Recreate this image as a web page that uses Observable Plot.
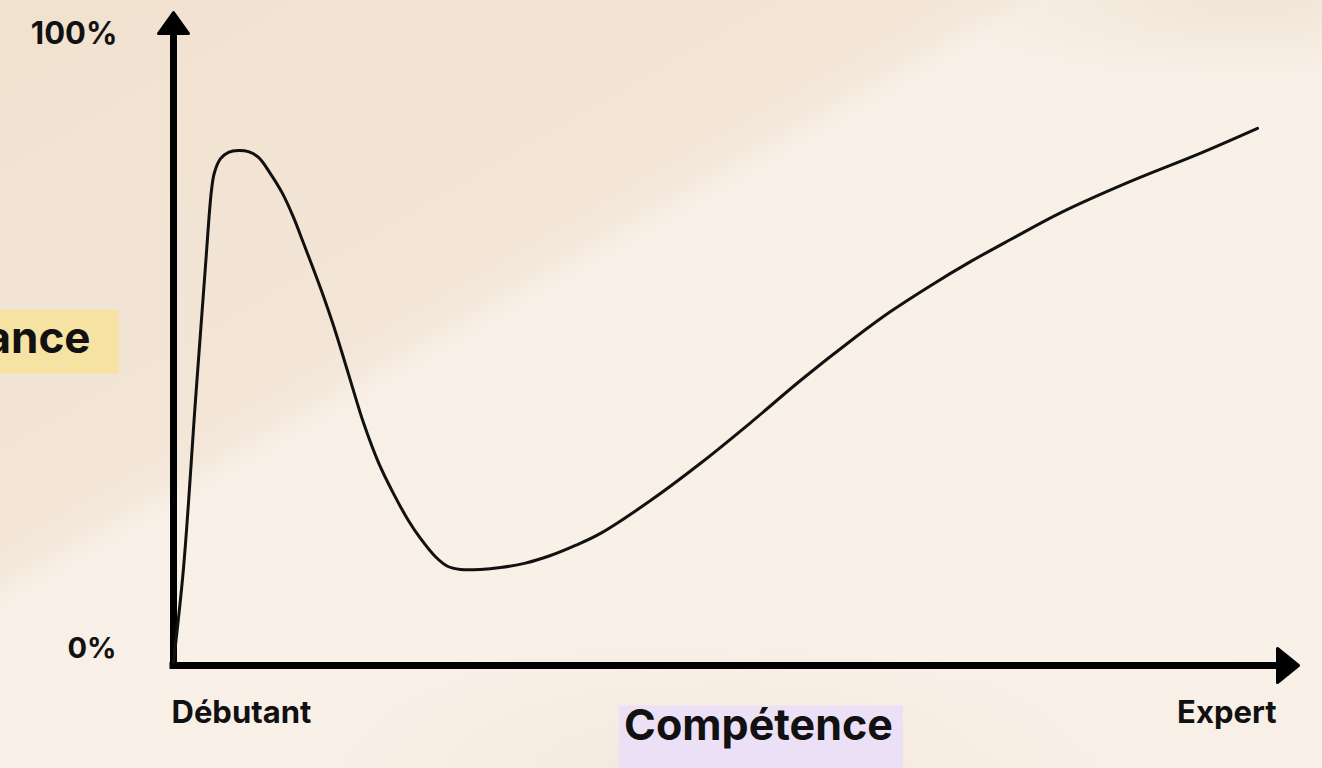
<!DOCTYPE html>
<html><head><meta charset="utf-8">
<script src="https://cdn.jsdelivr.net/npm/d3@7"></script>
<script src="https://cdn.jsdelivr.net/npm/@observablehq/plot@0.6"></script>
<style>
html,body{margin:0;padding:0;width:1322px;height:768px;overflow:hidden;}
body{
 background:
  radial-gradient(ellipse 420px 160px at 700px 780px, rgba(240,226,210,0.6), rgba(240,226,210,0) 100%),
  radial-gradient(ellipse 300px 80px at 1250px 0px, rgba(240,226,210,0.8), rgba(240,226,210,0) 100%),
  linear-gradient(150deg, #f1e1cf 0%, #f3e6d7 35%, #f4e8db 37.5%, #f8efe6 39.5%, #f9f1e9 70%, #f8efe6 100%);
 font-family: Inter, sans-serif;}
</style></head><body>
<script>
// Courbe (effet Dunning-Kruger) : compétence (0–100) vs confiance (0–100 %)
const competence = [0,0.91,1.99,2.90,3.44,3.71,4.26,4.98,5.89,6.79,7.70,8.79,9.87,10.87,11.78,12.68,13.59,14.49,15.40,16.30,17.21,18.57,19.93,21.29,22.37,23.73,24.82,26.00,27.81,29.62,31.88,34.15,36.41,38.68,43.21,47.74,52.26,56.79,61.59,64.95,68.57,72.19,75.82,80.43,86.68,92.93,98.19];
const confiance  = [0.5,15.5,41.9,63.3,75.2,78.0,80.2,81.2,81.5,81.3,80.4,77.8,74.7,70.9,66.8,62.7,58.4,53.8,48.7,43.5,38.4,32.1,27.2,22.9,20.1,17.2,15.7,15.2,15.2,15.5,16.2,17.4,19.0,20.9,26.1,32.0,38.4,45.1,51.7,56.0,60.1,63.9,67.4,71.7,76.6,81.0,85.0];

const yTickValues = [100, 0];
const yTickLabels = ["100%", "0%"];
const xTickValues = [0, 100];
const xTickLabels = ["Débutant", "Expert"];
const yTitle = "Confiance";
const xTitle = "Compétence";

const curve = competence.map((c, i) => ({competence: c, confiance: confiance[i]}));
const yTicks = yTickValues.map((v, i) => ({v, label: yTickLabels[i]}));
const xTicks = xTickValues.map((v, i) => ({v, label: xTickLabels[i]}));

// arrowhead symbols (origin at the base centre, pointing up)
const arrowY = {draw(ctx) { ctx.moveTo(0, -21); ctx.lineTo(15, 0); ctx.lineTo(-15, 0); ctx.closePath(); }};
const arrowX = {draw(ctx) { ctx.moveTo(0, -21); ctx.lineTo(17, 0); ctx.lineTo(-17, 0); ctx.closePath(); }};

const svg = Plot.plot({
  width: 1322,
  height: 768,
  marginLeft: 173,
  marginRight: 45,
  marginTop: 33,
  marginBottom: 103,
  x: {domain: [0, 100], axis: null},
  y: {domain: [0, 100], axis: null},
  style: {background: "transparent", fontFamily: "Inter, sans-serif", fontWeight: 700, color: "#111"},
  marks: [
    // axes
    Plot.ruleX([xTickValues[0]], {y1: yTickValues[1], y2: yTickValues[0], stroke: "#000", strokeWidth: 7, strokeLinecap: "square"}),
    Plot.ruleY([yTickValues[1]], {x1: xTickValues[0], x2: xTickValues[1], stroke: "#000", strokeWidth: 7, strokeLinecap: "square"}),
    Plot.dot([{x: xTickValues[0], y: yTickValues[0]}], {x: "x", y: "y", symbol: arrowY, fill: "#000", stroke: "#000", strokeWidth: 3, strokeLinejoin: "round"}),
    Plot.dot([{x: xTickValues[1], y: yTickValues[1]}], {x: "x", y: "y", rotate: 90, symbol: arrowX, fill: "#000", stroke: "#000", strokeWidth: 3, strokeLinejoin: "round"}),
    // curve
    Plot.line(curve, {x: "competence", y: "confiance", curve: "catmull-rom", stroke: "#111", strokeWidth: 3}),
    // y tick labels
    Plot.text(yTicks.filter(d => d.v === 100), {y: "v", text: "label", frameAnchor: "left", textAnchor: "end", dx: -56, dy: 1, fontSize: 31, fontWeight: 700, fill: "#111"}),
    Plot.text(yTicks.filter(d => d.v === 0), {y: "v", text: "label", frameAnchor: "left", textAnchor: "end", dx: -57, dy: -17, fontSize: 29, fontWeight: 700, fill: "#111"}),
    // x tick labels
    Plot.text(xTicks.filter(d => d.v === 0), {x: "v", text: "label", frameAnchor: "bottom", textAnchor: "start", dx: -2, dy: 57, fontSize: 31, fontWeight: 700, fill: "#111"}),
    Plot.text(xTicks.filter(d => d.v === 100), {x: "v", text: "label", frameAnchor: "bottom", textAnchor: "end", dx: -1, dy: 57, fontSize: 31, fontWeight: 700, fill: "#111"}),
    // axis titles
    Plot.text([yTitle], {frameAnchor: "left", textAnchor: "end", dx: -83, dy: -11, fontSize: 44, fontWeight: 700, fill: "#111"}),
    Plot.text([xTitle], {frameAnchor: "bottom", textAnchor: "middle", dx: 33, dy: 74, fontSize: 43, fontWeight: 700, fill: "#111"})
  ]
});
document.body.appendChild(svg);

// highlight boxes behind the axis titles
function addBox(label, fill, pad) {
  const t = [...svg.querySelectorAll("text")].find(e => e.textContent === label);
  if (!t) return;
  const b = t.getBBox();
  const r = document.createElementNS("http://www.w3.org/2000/svg", "rect");
  r.setAttribute("x", b.x - pad.l);
  r.setAttribute("y", b.y - pad.t);
  r.setAttribute("width", b.width + pad.l + pad.r);
  r.setAttribute("height", b.height + pad.t + pad.b);
  r.setAttribute("fill", fill);
  if (t.getAttribute("transform")) r.setAttribute("transform", t.getAttribute("transform"));
  t.parentNode.insertBefore(r, t);
}
addBox(yTitle, "#f6e3a4", {l: 20, r: 28, t: 0, b: 10});
addBox(xTitle, "#ece0f7", {l: 5, r: 10, t: -8, b: 60});
</script>
</body></html>
